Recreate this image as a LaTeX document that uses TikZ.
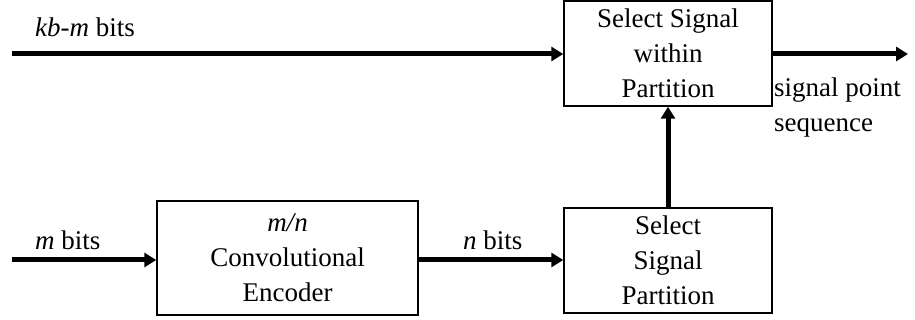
\documentclass[tikz,border=0pt]{standalone}
\usepackage{fontspec}
\setmainfont{Liberation Serif}
\usetikzlibrary{arrows.meta,positioning}
\begin{document}
\begin{tikzpicture}[x=1pt,y=-1pt,
      every node/.style={font=\fontsize{27}{35}\selectfont},
      block/.style={draw,line width=1.5pt,align=center,inner sep=0pt},
      label/.style={inner sep=0pt},
      flow/.style={line width=5pt,-{Triangle[length=12pt,width=14pt]}}]
    \useasboundingbox (0,0) rectangle (915,320);
    % blocks
    \node[block,minimum width=208pt,minimum height=105pt] (within) at (668,53.5)
        {Select Signal\\within\\Partition};
    \node[block,minimum width=208pt,minimum height=105pt] (part) at (668,260.5)
        {Select\\Signal\\Partition};
    \node[block,minimum width=261pt,minimum height=114pt] (enc) at (287.5,258)
        {\textit{m/n}\\Convolutional\\Encoder};
    % free ends
    \coordinate (kbin) at (12,54);
    \coordinate (min) at (12,260);
    \coordinate (out) at (908,54);
    % connectors
    \draw[flow] (kbin) -- (kbin -| within.west);
    \draw[flow] (min) -- (min -| enc.west);
    \draw[flow] (enc.east |- min) -- (min -| part.west);
    \draw[flow] (part.north) -- (within.south);
    \draw[flow] (within.east |- out) -- (out);
    % labels
    \node[label,anchor=west] (kblab) at (35,27) {\textit{kb-m} bits};
    \node[label,anchor=west] (mlab) at (35,240) {\textit{m} bits};
    \node[label,anchor=west] (nlab) at (463,240) {\textit{n} bits};
    \node[label,anchor=west,align=left] (outlab) at (774,108) {signal point\\sequence};
\end{tikzpicture}
\end{document}
